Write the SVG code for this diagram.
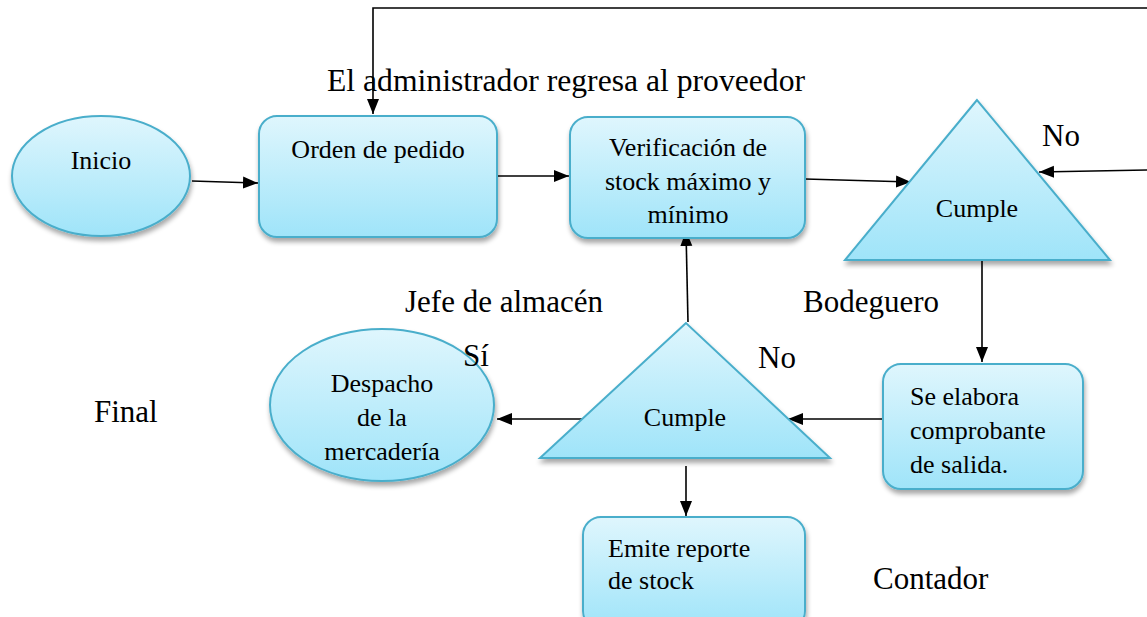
<svg xmlns="http://www.w3.org/2000/svg" width="1147" height="617" viewBox="0 0 1147 617">
<defs>
<linearGradient id="g" x1="0" y1="0" x2="0" y2="1">
<stop offset="0" stop-color="#dff6fd"/>
<stop offset="1" stop-color="#9fe4f9"/>
</linearGradient>
<filter id="sh" x="-10%" y="-10%" width="125%" height="130%">
<feGaussianBlur in="SourceAlpha" stdDeviation="2.5"/>
<feOffset dx="1" dy="4" result="b"/>
<feComponentTransfer><feFuncA type="linear" slope="0.35"/></feComponentTransfer>
<feMerge><feMergeNode/><feMergeNode in="SourceGraphic"/></feMerge>
</filter>
<marker id="ahb" markerWidth="15" markerHeight="14" refX="15" refY="7" orient="auto" markerUnits="userSpaceOnUse" viewBox="0 0 15 14">
<path d="M0,1 L15,7 L0,13 Z" fill="#000"/>
</marker>
</defs>
<style>
.n{fill:url(#g);stroke:#4aaecb;stroke-width:2;filter:url(#sh)}
.t{font-family:"Liberation Serif","Times New Roman",serif;font-size:26px;fill:#000}
.c{text-anchor:middle}
.l{font-family:"Liberation Serif","Times New Roman",serif;font-size:31px;fill:#000}
.e{fill:none;stroke:#000;stroke-width:1.6;marker-end:url(#ahb)}
</style>

<g id="connectors">
<path class="e" d="M1147,8 L373,8 L373,114"/>
<path class="e" d="M192,181 L258,183"/>
<path class="e" d="M497,176 L569,176"/>
<path class="e" d="M805,179 L911,182"/>
<path class="e" d="M1147,170 L1039,172"/>
<path class="e" d="M982,260 L982,362"/>
<path class="e" d="M883,419 L788,419"/>
<path class="e" d="M688,322 L686,231"/>
<path class="e" d="M588,419 L497,419"/>
<path class="e" d="M686,466 L686,516"/>
</g>

<g id="inicio">
<ellipse class="n" cx="101" cy="176" rx="89" ry="60"/>
<text class="t c" x="101" y="169">Inicio</text>
</g>

<g id="orden">
<rect class="n" x="259" y="116" width="238" height="121" rx="18"/>
<text class="t c" x="378" y="158">Orden de pedido</text>
</g>

<g id="verificacion">
<rect class="n" x="570" y="117" width="235" height="121" rx="18"/>
<text class="t c" x="688" y="156">Verificación de</text>
<text class="t c" x="688" y="190">stock máximo y</text>
<text class="t c" x="688" y="223">mínimo</text>
</g>

<g id="cumple1">
<polygon class="n" points="977,100 845,260 1110,260"/>
<text class="t c" x="977" y="217">Cumple</text>
</g>

<g id="salida">
<rect class="n" x="883" y="364" width="200" height="125" rx="18"/>
<text class="t" x="910" y="405">Se elabora</text>
<text class="t" x="910" y="439">comprobante</text>
<text class="t" x="910" y="473">de salida.</text>
</g>

<g id="cumple2">
<polygon class="n" points="686,323 540,458 830,458"/>
<text class="t c" x="685" y="426">Cumple</text>
</g>

<g id="despacho">
<ellipse class="n" cx="382" cy="405" rx="112" ry="76"/>
<text class="t c" x="382" y="392">Despacho</text>
<text class="t c" x="382" y="426">de la</text>
<text class="t c" x="382" y="460">mercadería</text>
</g>

<g id="reporte">
<rect class="n" x="583" y="517" width="222" height="112" rx="18"/>
<text class="t" x="608" y="557">Emite reporte</text>
<text class="t" x="608" y="589">de stock</text>
</g>

<g id="labels">
<text class="l" x="327" y="91" textLength="478" lengthAdjust="spacingAndGlyphs">El administrador regresa al proveedor</text>
<text class="l" x="1042" y="146">No</text>
<text class="l" x="405" y="312">Jefe de almacén</text>
<text class="l" x="803" y="312">Bodeguero</text>
<text class="l" x="463" y="366">Sí</text>
<text class="l" x="758" y="368">No</text>
<text class="l" x="94" y="422">Final</text>
<text class="l" x="873" y="589">Contador</text>
</g>
</svg>
